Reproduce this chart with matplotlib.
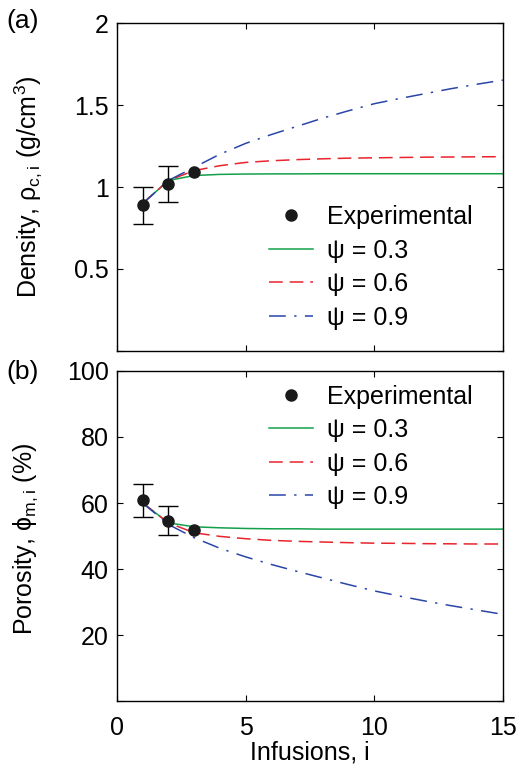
import numpy as np
import matplotlib
matplotlib.use('Agg')
import matplotlib.pyplot as plt

plt.rcParams['font.family'] = ['Liberation Sans', 'DejaVu Sans']
plt.rcParams['mathtext.default'] = 'regular'

# infusion number
inf = np.arange(1, 16)

# experimental data
exp_i = [1, 2, 3]
dens_exp = [0.888, 1.016, 1.091]
dens_err_lo = [0.114, 0.107, 0.0]
dens_err_hi = [0.112, 0.112, 0.0]
por_exp = [60.8, 54.6, 51.7]
por_err_lo = [5.0, 4.3, 0.0]
por_err_hi = [5.1, 4.4, 0.0]

# model curves, density (g/cm3)
dens_03 = [0.90, 1.04, 1.07, 1.077, 1.079, 1.08, 1.08, 1.081, 1.081, 1.081, 1.081, 1.081, 1.081, 1.081, 1.081]
dens_06 = [0.90, 1.04, 1.10, 1.13, 1.15, 1.16, 1.167, 1.172, 1.176, 1.178, 1.18, 1.182, 1.183, 1.184, 1.185]
dens_09 = [0.90, 1.04, 1.12, 1.20, 1.266, 1.32, 1.37, 1.42, 1.465, 1.508, 1.54, 1.57, 1.60, 1.627, 1.652]

# model curves, porosity (%)
por_03 = [60.0, 54.0, 52.8, 52.5, 52.3, 52.2, 52.2, 52.1, 52.1, 52.1, 52.1, 52.1, 52.1, 52.1, 52.1]
por_06 = [60.0, 54.0, 51.0, 49.9, 49.2, 48.7, 48.4, 48.2, 48.0, 47.85, 47.8, 47.7, 47.65, 47.6, 47.6]
por_09 = [60.0, 53.5, 49.5, 46.3, 43.7, 41.4, 39.3, 37.3, 35.3, 33.4, 31.8, 30.3, 28.9, 27.6, 26.3]

green = '#12a04a'
red = '#e8242c'
blue = '#2a45a8'
fs = 18

fig = plt.figure(figsize=(5.2, 7.68), dpi=100)
ax1 = fig.add_axes([0.225, 0.543, 0.742, 0.427])
ax2 = fig.add_axes([0.225, 0.087, 0.742, 0.43])


def panel(ax, yexp, elo, ehi, c3, c6, c9):
    ax.errorbar(exp_i[:2], yexp[:2], yerr=[elo[:2], ehi[:2]], fmt='none',
                ecolor='k', elinewidth=1, capsize=7, capthick=1, zorder=3)
    ax.plot(exp_i, yexp, 'o', color='#1a1a1a', ms=8, zorder=4, label='Experimental')
    ax.plot(inf, c3, '-', color=green, lw=1.1, label='ψ = 0.3')
    ax.plot(inf, c6, color=red, lw=1.1, dashes=(9, 4.5), label='ψ = 0.6')
    ax.plot(inf, c9, color=blue, lw=1.1, dashes=(11, 5.5, 1.5, 5.5), label='ψ = 0.9')
    ax.set_xlim(0, 15)
    ax.set_xticks([0, 5, 10, 15])
    ax.tick_params(direction='in', top=True, right=True, labelsize=fs, length=4)
    ax.tick_params(axis='y', pad=6)
    ax.tick_params(axis='x', pad=11)
    for s in ax.spines.values():
        s.set_linewidth(1)


panel(ax1, dens_exp, dens_err_lo, dens_err_hi, dens_03, dens_06, dens_09)
ax1.set_ylim(0, 2)
ax1.set_yticks([0, 0.5, 1, 1.5, 2])
ax1.set_yticklabels(['', '0.5', '1', '1.5', '2'])
ax1.set_xticklabels([])
ax1.set_ylabel('Density, ρ$_{c,i}$ (g/cm$^{3}$)', fontsize=fs)
ax1.yaxis.set_label_coords(-0.19, 0.5)
ax1.legend(loc='center left', bbox_to_anchor=(0.394, 0.255), frameon=False, fontsize=fs,
           borderpad=0, borderaxespad=0, handlelength=1.75, handletextpad=0.55, labelspacing=0.38)

panel(ax2, por_exp, por_err_lo, por_err_hi, por_03, por_06, por_09)
ax2.set_ylim(0, 100)
ax2.set_yticks([0, 20, 40, 60, 80, 100])
ax2.set_yticklabels(['', '20', '40', '60', '80', '100'])
ax2.set_xlabel('Infusions, i', fontsize=18, labelpad=0)
ax2.set_ylabel('Porosity, ϕ$_{m,i}$ (%)', fontsize=fs)
ax2.yaxis.set_label_coords(-0.2, 0.49)
ax2.legend(loc='center left', bbox_to_anchor=(0.394, 0.77), frameon=False, fontsize=fs,
           borderpad=0, borderaxespad=0, handlelength=1.75, handletextpad=0.55, labelspacing=0.38)

fig.text(0.012, 0.973, '(a)', fontsize=19, va='center', ha='left')
fig.text(0.012, 0.516, '(b)', fontsize=19, va='center', ha='left')

fig.savefig('out.png', dpi=100)
